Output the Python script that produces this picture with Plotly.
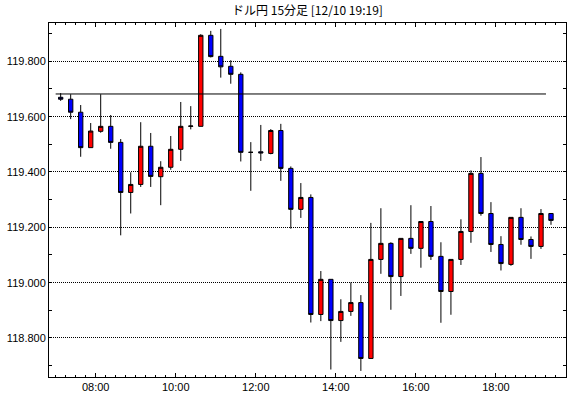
import plotly.graph_objects as go

title_text = "ドル円 15分足 [12/10 19:19]"

times = ["07:00", "07:15", "07:30", "07:45", "08:00", "08:15", "08:30", "08:45",
         "09:00", "09:15", "09:30", "09:45", "10:00", "10:15", "10:30", "10:45",
         "11:00", "11:15", "11:30", "11:45", "12:00", "12:15", "12:30", "12:45",
         "13:00", "13:15", "13:30", "13:45", "14:00", "14:15", "14:30", "14:45",
         "15:00", "15:15", "15:30", "15:45", "16:00", "16:15", "16:30", "16:45",
         "17:00", "17:15", "17:30", "17:45", "18:00", "18:15", "18:30", "18:45",
         "19:00", "19:15"]

opens = [119.670, 119.663, 119.616, 119.488, 119.547, 119.565, 119.507, 119.326,
         119.355, 119.493, 119.383, 119.417, 119.482, 119.565, 119.565, 119.894,
         119.818, 119.782, 119.753, 119.471, 119.473, 119.467, 119.550, 119.413,
         119.265, 119.308, 118.885, 119.012, 118.863, 118.896, 118.928, 118.726,
         119.084, 119.142, 119.022, 119.160, 119.124, 119.221, 119.095, 118.968,
         119.084, 119.185, 119.395, 119.250, 119.138, 119.066, 119.236, 119.156,
         119.131, 119.250]
highs = [119.685, 119.681, 119.642, 119.577, 119.681, 119.606, 119.519, 119.399,
         119.580, 119.541, 119.439, 119.530, 119.653, 119.638, 119.898, 119.910,
         119.917, 119.804, 119.760, 119.508, 119.570, 119.555, 119.574, 119.420,
         119.360, 119.319, 119.042, 119.012, 118.940, 119.001, 118.955, 119.216,
         119.269, 119.146, 119.160, 119.280, 119.221, 119.277, 119.146, 119.084,
         119.229, 119.406, 119.454, 119.291, 119.168, 119.236, 119.269, 119.167,
         119.266, 119.250]
lows = [119.657, 119.591, 119.455, 119.488, 119.542, 119.484, 119.171, 119.250,
        119.346, 119.346, 119.280, 119.408, 119.440, 119.554, 119.565, 119.814,
        119.741, 119.719, 119.438, 119.332, 119.440, 119.464, 119.368, 119.195,
        119.234, 118.856, 118.861, 118.686, 118.786, 118.880, 118.681, 118.726,
        119.032, 118.902, 118.952, 119.104, 119.054, 119.082, 118.855, 118.884,
        119.064, 119.144, 119.242, 119.111, 119.044, 119.061, 119.137, 119.086,
        119.122, 119.209]
closes = [119.663, 119.616, 119.488, 119.548, 119.565, 119.507, 119.326, 119.355,
          119.493, 119.384, 119.417, 119.482, 119.565, 119.566, 119.894, 119.817,
          119.780, 119.753, 119.471, 119.471, 119.469, 119.550, 119.413, 119.265,
          119.308, 118.885, 119.012, 118.863, 118.896, 118.928, 118.726, 119.084,
          119.142, 119.022, 119.160, 119.124, 119.221, 119.095, 118.968, 119.084,
          119.185, 119.395, 119.250, 119.138, 119.069, 119.236, 119.156, 119.131,
          119.250, 119.225]

ref_level = 119.682

x_tick_labels = ["08:00", "10:00", "12:00", "14:00", "16:00", "18:00"]


def to_min(s):
    h, m = s.split(":")
    return int(h) * 60 + int(m)


bar_minutes = 15
xc = [to_min(t) + bar_minutes / 2 for t in times]

fig = go.Figure()
fig.add_trace(go.Candlestick(
    x=xc, open=opens, high=highs, low=lows, close=closes,
    increasing=dict(fillcolor="#ff0000", line=dict(color="black", width=1)),
    decreasing=dict(fillcolor="#0000ff", line=dict(color="black", width=1)),
    whiskerwidth=0, showlegend=False, hoverinfo="skip",
))
fig.add_trace(go.Scatter(
    x=[to_min(times[0]), to_min(times[-1])], y=[ref_level, ref_level],
    mode="lines", line=dict(color="black", width=1), showlegend=False,
    hoverinfo="skip",
))

tick_font = dict(family="Liberation Sans", size=11, color="black")

fig.update_layout(
    width=570, height=398,
    margin=dict(l=49, r=4, t=23, b=21),
    paper_bgcolor="white", plot_bgcolor="white",
    boxgap=0.38,
    title=dict(text=title_text, x=0.5, xref="paper", xanchor="center",
               y=1 - 11 / 398, yref="container", yanchor="middle",
               font=dict(family="Noto Sans CJK JP", size=12, color="black")),
    xaxis=dict(
        range=[410, 1185],
        tickmode="array",
        tickvals=[to_min(t) for t in x_tick_labels],
        ticktext=x_tick_labels,
        ticks="inside", ticklen=4, tickcolor="black", tickwidth=1,
        showline=True, linecolor="black", linewidth=1, mirror="ticks",
        showgrid=False, zeroline=False,
        minor=dict(tickmode="linear", tick0=0, dtick=15, ticks="inside",
                   ticklen=2, tickcolor="black", tickwidth=1, showgrid=False),
        tickfont=tick_font,
        rangeslider=dict(visible=False),
        fixedrange=True, automargin=False,
    ),
    yaxis=dict(
        range=[118.659, 119.9385],
        tickmode="linear", tick0=118.8, dtick=0.2, tickformat=".3f",
        ticks="inside", ticklen=3, tickcolor="black", tickwidth=1,
        showline=True, linecolor="black", linewidth=1, mirror="ticks",
        showgrid=True, gridcolor="black", gridwidth=1, griddash="1px,1px",
        zeroline=False,
        minor=dict(tickmode="linear", tick0=118.7, dtick=0.1, ticks="inside",
                   ticklen=3, tickcolor="black", tickwidth=1, showgrid=False),
        tickfont=tick_font,
        fixedrange=True, automargin=False,
    ),
)

fig.write_html("out.html", config={"displayModeBar": False},
               post_script="document.body.style.margin='0';document.body.style.padding='0';")
